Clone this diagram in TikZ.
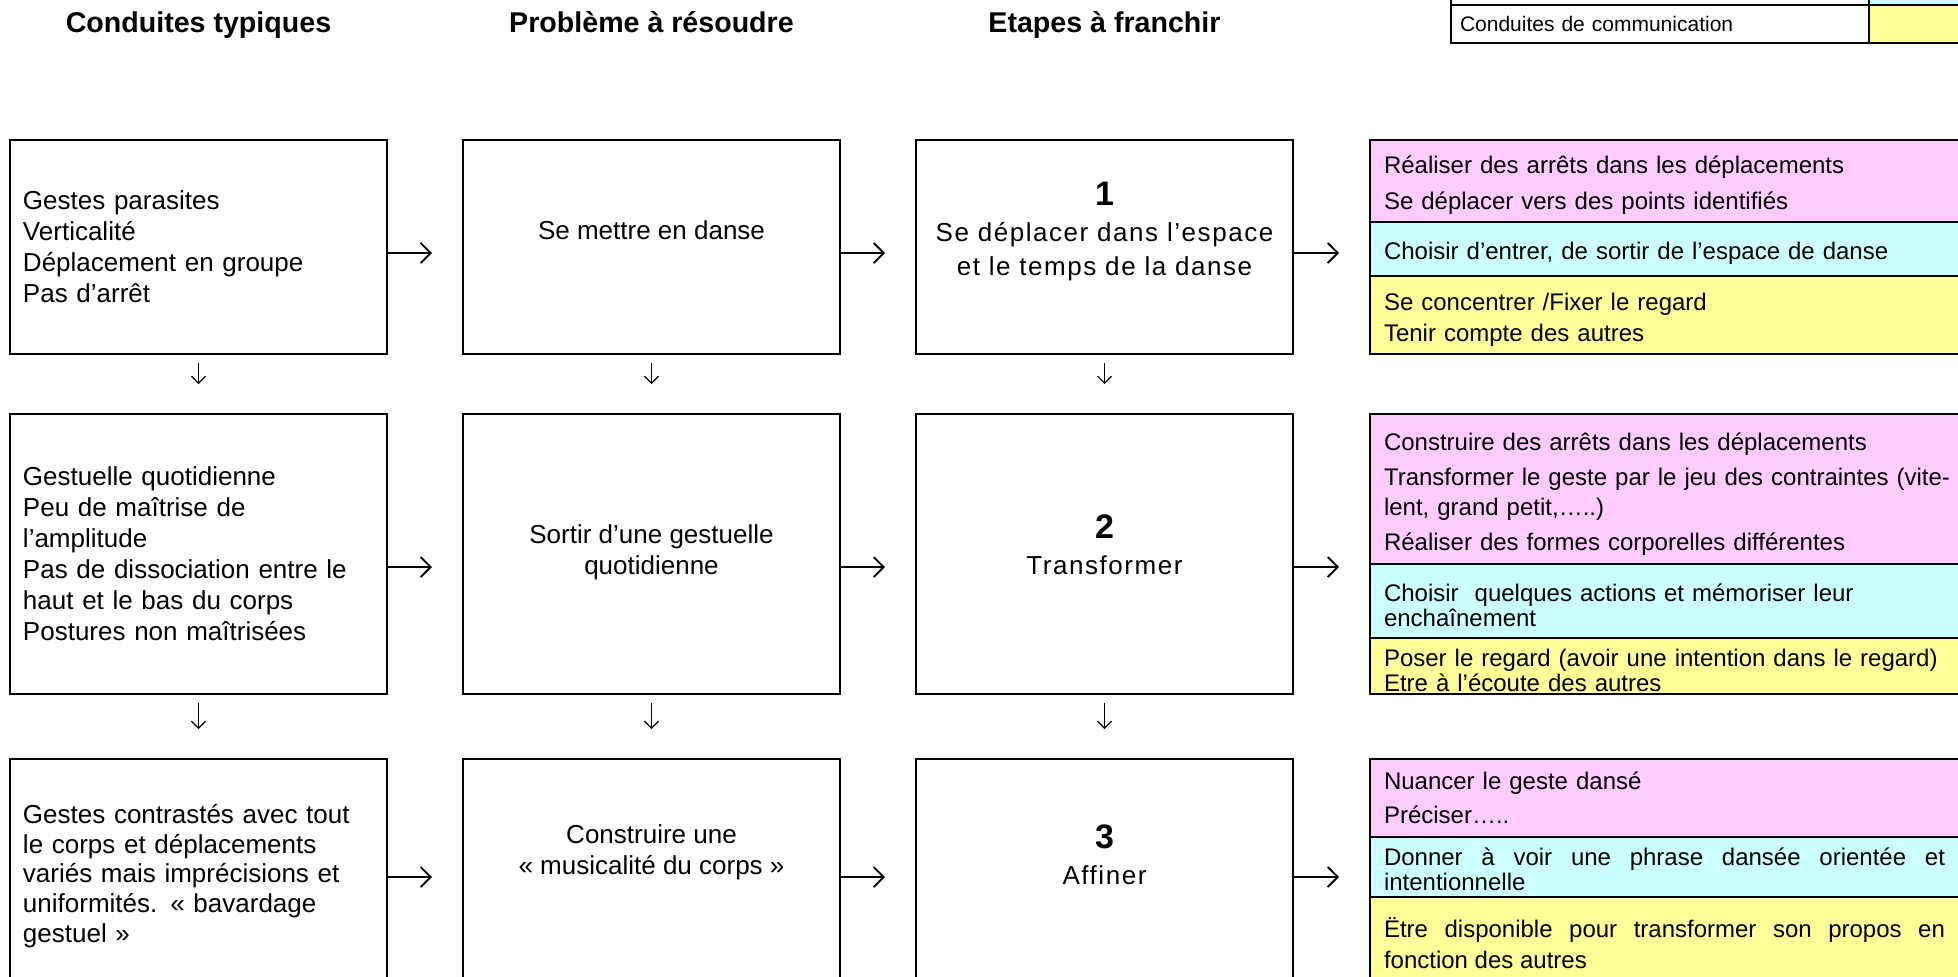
\documentclass[tikz,border=0pt]{standalone}
\usepackage{fontspec}
\setmainfont{Liberation Sans}
\newfontfamily\spacedfont[LetterSpace=6]{Liberation Sans}
\usetikzlibrary{positioning, arrows.meta}

\definecolor{motpink}{RGB}{255,204,255}
\definecolor{orgcyan}{RGB}{204,255,255}
\definecolor{comyellow}{RGB}{255,255,153}
\newcommand{\cellstrut}[1]{\rule{0pt}{#1}}

\begin{document}
\begin{tikzpicture}[x=0.5pt, y=-0.5pt,
        stagebox/.style={rectangle, draw, line width=1.3pt, minimum width=188.5pt, inner sep=0pt, outer sep=0pt},
        condbox/.style={stagebox, align=left, text width=175.5pt, inner xsep=6.5pt, font=\fontsize{13}{15.5}\selectfont},
        bodytext/.style={align=center, font=\fontsize{13}{15.5}\selectfont, inner sep=0pt},
        steptext/.style={align=center, font=\spacedfont\fontsize{13}{17}\selectfont, inner sep=0pt},
        headtext/.style={anchor=base, font=\fontsize{14.3}{17}\selectfont\bfseries},
        actcell/.style={rectangle, draw, line width=1.3pt, align=left, text width=288pt, inner xsep=7pt, inner ysep=0pt, outer sep=0pt, font=\fontsize{12}{12.5}\selectfont},
        legcell/.style={rectangle, draw, line width=1.4pt, inner xsep=4.5pt, inner ysep=0pt, outer sep=0pt, minimum height=19pt, font=\fontsize{10.5}{12}\selectfont},
        flow/.style={-{Straight Barb[length=5pt, width=10pt]}, line width=0.9pt, shorten >=15.5pt},
        downflow/.style={-{Straight Barb[length=3.5pt, width=7pt]}, line width=0.6pt, shorten <=4.5pt, shorten >=15pt},
        ]
        \useasboundingbox (0,0) rectangle (1958,976);

        %Boxes
        \node[condbox, minimum height=107pt] (c1r1) at (198.5,247) {Gestes parasites\\Verticalité\\Déplacement en groupe\\Pas d’arrêt};
        \node[stagebox, minimum height=107pt] (c2r1) [right=38pt of c1r1] {};
        \node[stagebox, minimum height=107pt] (c3r1) [right=38pt of c2r1] {};

        \node[condbox, minimum height=140pt] (c1r2) [below=30pt of c1r1] {Gestuelle quotidienne\\Peu de maîtrise de\\l’amplitude\\Pas de dissociation entre le\\haut et le bas du corps\\Postures non maîtrisées};
        \node[stagebox, minimum height=140pt] (c2r2) [right=38pt of c1r2] {};
        \node[stagebox, minimum height=140pt] (c3r2) [right=38pt of c2r2] {};

        \node[condbox, minimum height=113pt, font=\fontsize{13}{14.8}\selectfont] (c1r3) [below=32.5pt of c1r2] {\cellstrut{13.5pt}Gestes contrastés avec tout\\le corps et déplacements\\variés mais imprécisions et\\uniformités. «~bavardage\\gestuel~»};
        \node[stagebox, minimum height=113pt] (c2r3) [right=38pt of c1r3] {};
        \node[stagebox, minimum height=113pt] (c3r3) [right=38pt of c2r3] {};

        %Texts
        \coordinate (headline) at (0,32);
        \node[headtext] (h1) at (c1r1.north |- headline) {Conduites typiques};
        \node[headtext] (h2) at (c2r1.north |- headline) {Problème à résoudre};
        \node[headtext] (h3) at (c3r1.north |- headline) {Etapes à franchir};

        \node[bodytext] (p1) at ([yshift=8.5pt]c2r1) {Se mettre en danse};
        \node[bodytext] (p2) at ([yshift=0.75pt]c2r2) {Sortir d’une gestuelle\\quotidienne};
        \node[bodytext] (p3) at ([yshift=9.75pt]c2r3) {Construire une\\«~musicalité du corps~»};

        \node[steptext] (s1) at ([yshift=8pt]c3r1) {{\rmfamily\bfseries\fontsize{17}{20}\selectfont 1}\\[1pt]Se déplacer dans l’espace\\et le temps de la danse};
        \node[steptext] (s2) at ([yshift=4.75pt]c3r2) {{\rmfamily\bfseries\fontsize{17}{20}\selectfont 2}\\[1pt]Transformer};
        \node[steptext] (s3) at ([yshift=8.5pt]c3r3) {{\rmfamily\bfseries\fontsize{17}{20}\selectfont 3}\\[1pt]Affiner};

        %Actions
        \node[actcell, fill=motpink, minimum height=41pt, anchor=north west] (m1) at ([xshift=38.5pt]c3r1.north east) {\cellstrut{12.5pt}Réaliser des arrêts dans les déplacements\\[5.5pt]Se déplacer vers des points identifiés};
        \node[actcell, fill=orgcyan, minimum height=27pt] (o1) [below=0pt of m1] {\cellstrut{13pt}Choisir d’entrer, de sortir de l’espace de danse};
        \node[actcell, fill=comyellow, minimum height=39pt] (k1) [below=0pt of o1] {\cellstrut{13pt}Se concentrer /Fixer le regard\\[3pt]Tenir compte des autres};

        \node[actcell, fill=motpink, minimum height=75pt, anchor=north west] (m2) at ([xshift=38.5pt]c3r2.north east) {\cellstrut{13.5pt}Construire des arrêts dans les déplacements\\[5pt]Transformer le geste par le jeu des contraintes (vite-\\[2.5pt]lent, grand petit,…..)\\[5pt]Réaliser des formes corporelles différentes};
        \node[actcell, fill=orgcyan, minimum height=37pt] (o2) [below=0pt of m2] {\cellstrut{13pt}Choisir~ quelques actions et mémoriser leur\\enchaînement};
        \node[actcell, fill=comyellow, minimum height=28pt] (k2) [below=0pt of o2] {\cellstrut{13.5pt}Poser le regard (avoir une intention dans le regard)\\Etre à l’écoute des autres};

        \node[actcell, fill=motpink, minimum height=39pt, anchor=north west] (m3) at ([xshift=38.5pt]c3r3.north east) {Nuancer le geste dansé\\[4.5pt]Préciser…..};
        \node[actcell, fill=orgcyan, minimum height=30pt, text width=280.5pt, align=justify, anchor=north west] (o3) at (m3.south west) {\cellstrut{11.5pt}Donner à voir une phrase dansée orientée et\linebreak intentionnelle};
        \node[actcell, fill=comyellow, minimum height=46.5pt, text width=280.5pt, align=justify, anchor=north west, font=\fontsize{12}{15.5}\selectfont] (k3) at (o3.south west) {Ëtre disponible pour transformer son propos en\linebreak fonction des autres};

        %Legend
        \node[legcell, text width=200pt, align=left, anchor=north west] (lgcom) at (1451,5) {Conduites de communication};
        \node[legcell, fill=comyellow, minimum width=53pt] (lgcomc) [right=0pt of lgcom] {};
        \node[legcell, text width=200pt] (lgorg) [above=0pt of lgcom] {};
        \node[legcell, fill=orgcyan, minimum width=53pt] (lgorgc) [above=0pt of lgcomc] {};

        %Lines
        \draw[flow] ([yshift=-3pt]c1r1.east) -- ([yshift=-3pt]c2r1.west);
        \draw[flow] ([yshift=-3pt]c2r1.east) -- ([yshift=-3pt]c3r1.west);
        \draw[flow] ([yshift=-3pt]c3r1.east) -- ([yshift=-3pt]c3r1.east -| o1.west);

        \draw[flow] ([yshift=-6.5pt]c1r2.east) -- ([yshift=-6.5pt]c2r2.west);
        \draw[flow] ([yshift=-6.5pt]c2r2.east) -- ([yshift=-6.5pt]c3r2.west);
        \draw[flow] ([yshift=-6.5pt]c3r2.east) -- ([yshift=-6.5pt]c3r2.east -| o2.west);

        \draw[flow] ([yshift=-2.5pt]c1r3.east) -- ([yshift=-2.5pt]c2r3.west);
        \draw[flow] ([yshift=-2.5pt]c2r3.east) -- ([yshift=-2.5pt]c3r3.west);
        \draw[flow] ([yshift=-2.5pt]c3r3.east) -- ([yshift=-2.5pt]c3r3.east -| o3.west);

        \draw[downflow] (c1r1) -- (c1r2);
        \draw[downflow] (c2r1) -- (c2r2);
        \draw[downflow] (c3r1) -- (c3r2);
        \draw[downflow] (c1r2) -- (c1r3);
        \draw[downflow] (c2r2) -- (c2r3);
        \draw[downflow] (c3r2) -- (c3r3);
\end{tikzpicture}
\end{document}
